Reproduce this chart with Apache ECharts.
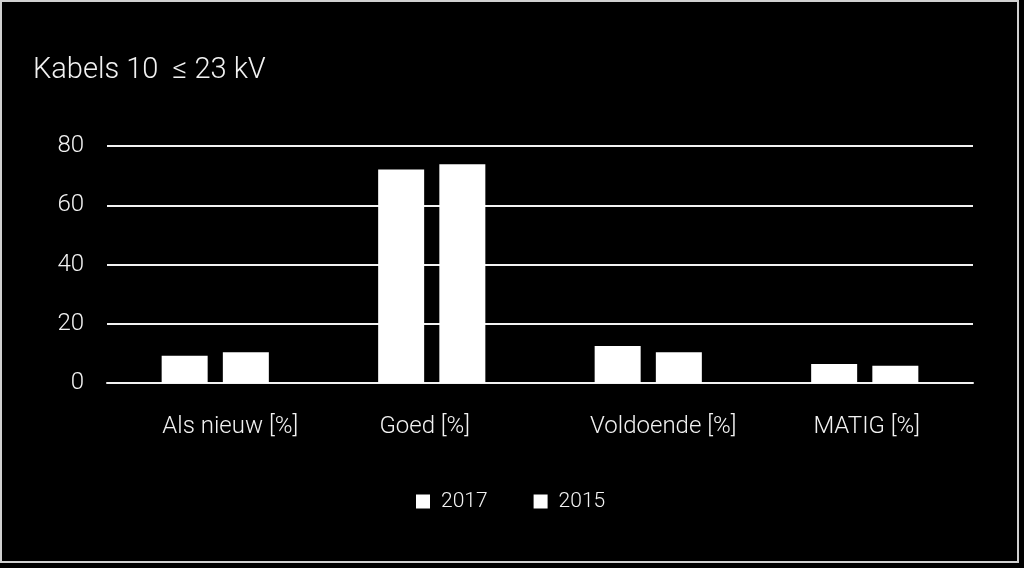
<!DOCTYPE html>
<html>
<head>
<meta charset="utf-8">
<style>
html,body{margin:0;padding:0;background:#000;}
#c{width:1024px;height:568px;}
</style>
<script src="https://cdn.jsdelivr.net/npm/echarts@6/dist/echarts.min.js"></script>
</head>
<body>
<div id="c"></div>
<script>
const titleText = 'Kabels 10  \u2264 23 kV';
const categories = ['Als nieuw [%]', 'Goed [%]', 'Voldoende [%]', 'MATIG [%]'];
const seriesNames = ['2017', '2015'];
const values2017 = [9.2, 72.1, 12.5, 6.4];
const values2015 = [10.4, 73.8, 10.4, 5.8];
const yTicks = [0, 20, 40, 60, 80];

const FONT = 'Roboto, "Noto Sans", sans-serif';
// label nudges (px) to mimic the original's uneven label placement
const labelPad = [[0,0,0,30],[0,14,0,0],[0,0,0,30],[0,0,0,4]];
const rich = {};
labelPad.forEach((p, i) => {
  rich['l' + i] = {color: '#f2f2f2', fontFamily: FONT, fontSize: 24, fontWeight: 300, padding: p};
});
const chart = echarts.init(document.getElementById('c'));
chart.setOption({
  backgroundColor: '#000',
  animation: false,
  graphic: [{
    type: 'rect',
    shape: {x: 1, y: 1, width: 1017, height: 561},
    style: {fill: 'none', stroke: '#d0d0d0', lineWidth: 2},
    silent: true
  }],
  title: {
    text: titleText,
    left: 28, top: 51,
    textStyle: {color: '#f2f2f2', fontFamily: FONT, fontSize: 29, fontWeight: 300}
  },
  legend: {
    data: seriesNames,
    top: 486, left: 411,
    itemWidth: 14, itemHeight: 14, itemGap: 46,
    icon: 'rect',
    textStyle: {color: '#f2f2f2', fontFamily: FONT, fontSize: 21, fontWeight: 300, padding: [0, 0, 0, 6]}
  },
  grid: {left: 107, right: 51, top: 146, bottom: 185, containLabel: false},
  xAxis: {
    type: 'category',
    data: categories,
    axisLine: {show: true, lineStyle: {color: '#f2f2f2', width: 2}},
    axisTick: {show: false},
    axisLabel: {
      margin: 32,
      formatter: (v, i) => '{l' + i + '|' + v + '}',
      rich: rich
    }
  },
  yAxis: {
    type: 'value',
    min: yTicks[0], max: yTicks[yTicks.length - 1], interval: 20,
    axisLine: {show: false},
    axisTick: {show: false},
    splitLine: {lineStyle: {color: '#f2f2f2', width: 2}},
    axisLabel: {color: '#f2f2f2', fontFamily: FONT, fontSize: 24, fontWeight: 300, margin: 23}
  },
  series: [
    {name: seriesNames[0], type: 'bar', data: values2017, barWidth: 46, barGap: '33%',
     itemStyle: {color: '#ffffff'}},
    {name: seriesNames[1], type: 'bar', data: values2015, barWidth: 46,
     itemStyle: {color: '#ffffff'}}
  ]
});
</script>
</body>
</html>
